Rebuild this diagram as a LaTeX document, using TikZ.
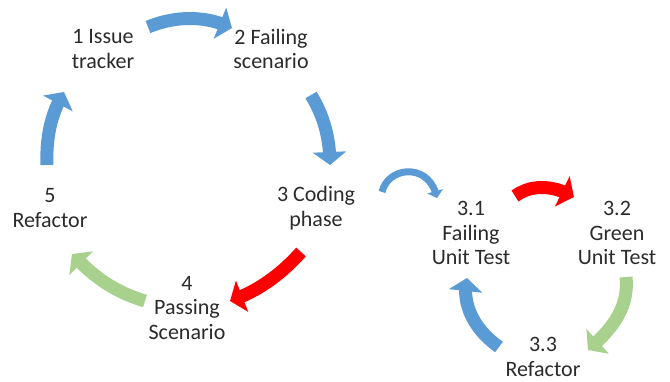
\documentclass[tikz,border=0pt]{standalone}
\usepackage{fontspec}
\setmainfont{Carlito}
\usetikzlibrary{arrows.meta,bending}
\definecolor{arrblue}{HTML}{5B9BD5}
\definecolor{arrred}{HTML}{FF0000}
\definecolor{arrgreen}{HTML}{A9D18E}
\definecolor{txt}{HTML}{2B2B2B}
\tikzset{
  lbl/.style={align=center,text=txt,font=\fontsize{22}{24.5}\selectfont,inner sep=0pt},
  bigarrow/.style={line width=13pt,-{Triangle[length=13pt,width=33pt,flex]}},
  smallarrow/.style={line width=7pt,-{Triangle[length=7pt,width=16pt,flex]}},
}
\begin{document}
\begin{tikzpicture}[x=1pt,y=-1pt]
\useasboundingbox (0,0) rectangle (670,381);
% labels
\node[lbl] (n1) at (103,49) {1 Issue\\tracker};
\node[lbl] (n2) at (271,49) {2 Failing\\scenario};
\node[lbl] (n3) at (316,208) {3 Coding\\phase};
\node[lbl] (n4) at (187,308) {4\\Passing\\Scenario};
\node[lbl] (n5) at (50,208) {5\\Refactor};
\node[lbl] (n31) at (471,233) {3.1\\Failing\\Unit Test};
\node[lbl] (n32) at (617,233) {3.2\\Green\\Unit Test};
\node[lbl] (n33) at (543,357) {3.3\\Refactor};
% arrow end points
\coordinate (a1s) at (148,27); \coordinate (a1e) at (232,28);
\coordinate (a2s) at (311,95); \coordinate (a2e) at (330,165);
\coordinate (a3s) at (47,165); \coordinate (a3e) at (64,92);
\coordinate (a4s) at (301,252); \coordinate (a4e) at (230,301);
\coordinate (a5s) at (145,301); \coordinate (a5e) at (72,254);
\coordinate (a6s) at (382,192); \coordinate (a6e) at (437,198);
\coordinate (a7s) at (515,196); \coordinate (a7e) at (574,197);
\coordinate (a8s) at (626,277); \coordinate (a8e) at (588,350);
\coordinate (a9s) at (499,347); \coordinate (a9e) at (467,278);
% arrows
\draw[bigarrow,arrblue] (a1s) .. controls (175,16) and (205,15) .. (a1e);
\draw[bigarrow,arrblue] (a2s) .. controls (322,113) and (330,135) .. (a2e);
\draw[bigarrow,arrblue] (a3s) .. controls (46,140) and (50,115) .. (a3e);
\draw[bigarrow,arrred] (a4s) .. controls (285,270) and (262,290) .. (a4e);
\draw[bigarrow,arrgreen] (a5s) .. controls (115,292) and (95,278) .. (a5e);
\draw[smallarrow,arrblue] (a6s) .. controls (388,166) and (430,162) .. (a6e);
\draw[bigarrow,arrred] (a7s) .. controls (530,185) and (552,184) .. (a7e);
\draw[bigarrow,arrgreen] (a8s) .. controls (629,305) and (615,327) .. (a8e);
\draw[bigarrow,arrblue] (a9s) .. controls (475,330) and (461,305) .. (a9e);
\end{tikzpicture}
\end{document}
